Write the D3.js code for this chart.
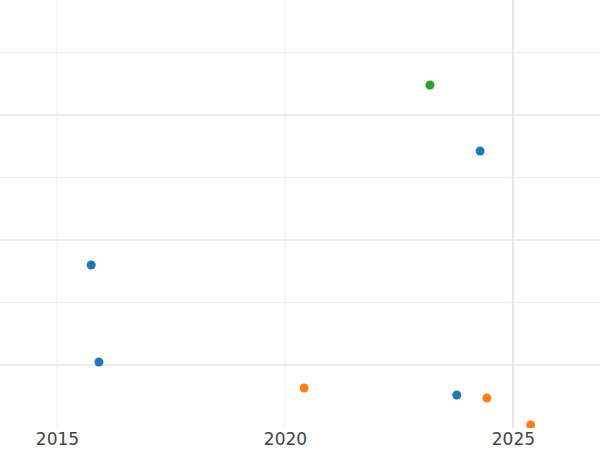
<!DOCTYPE html>
<html><head><meta charset="utf-8">
<script src="https://cdn.jsdelivr.net/npm/d3@7"></script>
<style>body{margin:0;background:#fff}</style></head>
<body><svg id="c" width="600" height="450"></svg>
<script>
const xVals = [2023.18, 2024.28, 2015.75, 2015.92, 2020.42, 2023.77, 2024.43, 2025.39];
const yVals = [2.24, 1.712, 0.8, 0.024, -0.184, -0.24, -0.264, -0.48];
const groups = ["g", "b", "b", "b", "o", "b", "o", "o"];
const xTicks = [2015, 2020, 2025];
const yMajor = [0, 1, 2];
const yMinor = [0.5, 1.5, 2.5];
const colors = {b: "#1f77b4", o: "#ff7f0e", g: "#2ca02c"};

const svg = d3.select("#c");
const x = d3.scaleLinear().domain([2013.75, 2026.91]).range([0, 600]);
const y = d3.scaleLinear().domain([-0.504, 2.92]).range([428, 0]);

svg.append("clipPath").attr("id", "cp").append("rect").attr("width", 600).attr("height", 428);

svg.selectAll(".ymin").data(yMinor).enter().append("line")
  .attr("x1", 0).attr("x2", 600).attr("y1", d => y(d)).attr("y2", d => y(d))
  .attr("stroke", "#f0f0f0").attr("stroke-width", 1);
svg.selectAll(".ymaj").data(yMajor).enter().append("line")
  .attr("x1", 0).attr("x2", 600).attr("y1", d => y(d)).attr("y2", d => y(d))
  .attr("stroke", "#e6e6e6").attr("stroke-width", 1.5);
svg.selectAll(".xg").data(xTicks).enter().append("line")
  .attr("x1", d => x(d)).attr("x2", d => x(d)).attr("y1", 0).attr("y2", 428)
  .attr("stroke", (d, i) => i === 2 ? "#e6e6e6" : "#f0f0f0")
  .attr("stroke-width", (d, i) => i === 2 ? 2 : 1);

const ax = svg.append("g").attr("transform", "translate(0,428)")
  .call(d3.axisBottom(x).tickValues(xTicks).tickFormat(d3.format("d")).tickSize(0).tickPadding(5));
ax.select(".domain").remove();
ax.selectAll("text").attr("font-family", "DejaVu Sans").attr("font-size", 17).attr("fill", "#444");

svg.append("g").attr("clip-path", "url(#cp)")
  .selectAll("circle").data(xVals).enter().append("circle")
  .attr("cx", d => x(d)).attr("cy", (d, i) => y(yVals[i])).attr("r", 4.5)
  .attr("fill", (d, i) => colors[groups[i]]);
</script></body></html>
